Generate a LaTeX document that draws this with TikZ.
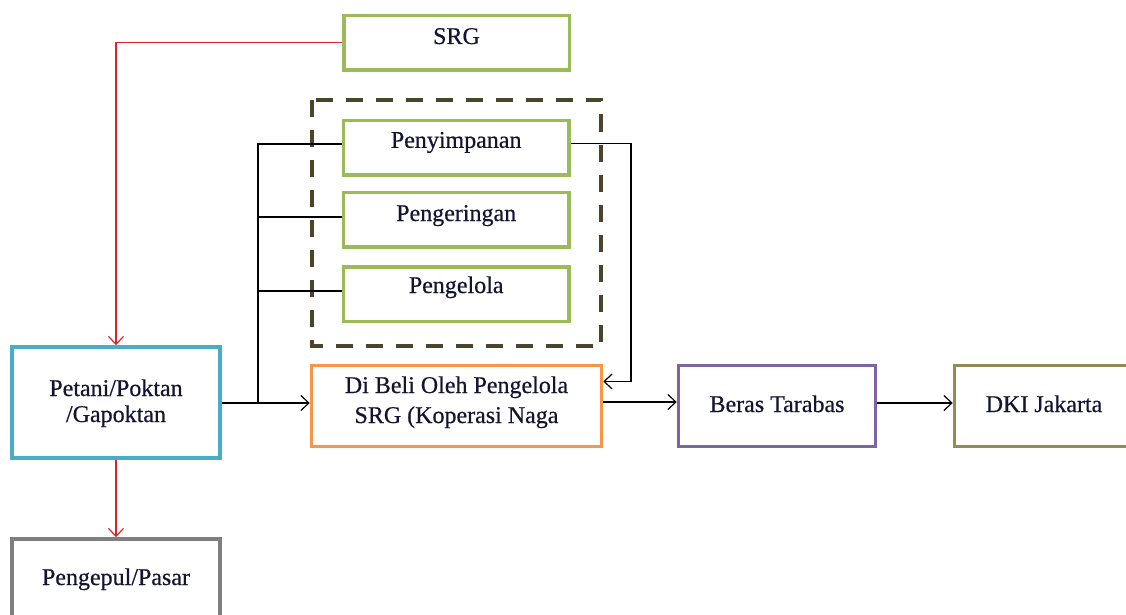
\documentclass[tikz,border=0pt]{standalone}
\usepackage{fontspec}
\setmainfont{Liberation Serif}[FakeBold=0.5]
\usetikzlibrary{arrows.meta}
\definecolor{cgreen}{HTML}{9BBB59}
\definecolor{cblue}{HTML}{4BACC6}
\definecolor{corange}{HTML}{F79646}
\definecolor{cpurple}{HTML}{8064A2}
\definecolor{colive}{HTML}{948A54}
\definecolor{cgray}{HTML}{7F7F7F}
\definecolor{cdash}{HTML}{4A452A}
\definecolor{cred}{HTML}{D9262B}
\definecolor{ctext}{HTML}{141432}
\newcommand\rone[2]{\raisebox{#1}[0pt][0pt]{#2}}
\newcommand\rtwo[4]{\raisebox{#1}[0pt][0pt]{\fontsize{24}{#2}\selectfont\begin{tabular}[t]{@{}c@{}}#3\\#4\end{tabular}}}
\tikzset{
  box/.style={draw, line width=3.5pt, fill=white, text=ctext, font=\fontsize{24}{28}\selectfont, inner sep=0pt},
  gbox/.style={box, draw=cgreen, minimum width=225.5pt, minimum height=54.5pt},
  conn/.style={line width=1.2pt, -{Straight Barb[length=8pt,width=15pt,line width=1.2pt]}},
  plain/.style={line width=1.2pt},
}
\begin{document}
\begin{tikzpicture}[x=1pt,y=-1pt]
\useasboundingbox (0,0) rectangle (1126,615);
\clip (0,0) rectangle (1126,615);
% dashed group
\draw[cdash, line width=4pt, dash pattern=on 17pt off 13pt] (311.5,100) rectangle (601,346);
% boxes
\node[gbox] (srg) at (456.5,42.8) {\rone{-1.2pt}{SRG}};
\node[gbox] (peny) at (456.2,147.8) {\rone{0pt}{Penyimpanan}};
\node[gbox] (peng) at (456.2,219.5) {\rone{-1.5pt}{Pengeringan}};
\node[gbox] (pglo) at (456.2,294) {\rone{1pt}{Pengelola}};
\node[box, draw=cblue, minimum width=208pt, minimum height=111pt] (pet) at (116,402.5) {\rtwo{6.5pt}{26}{Petani/Poktan}{/Gapoktan}};
\node[box, draw=corange, minimum width=290pt, minimum height=81pt] (beli) at (456.5,406) {\rtwo{13pt}{30}{Di Beli Oleh Pengelola}{SRG (Koperasi Naga}};
\node[box, draw=cpurple, minimum width=197pt, minimum height=81pt] (beras) at (777,406) {\rone{-6pt}{Beras Tarabas}};
\node[box, draw=colive, minimum width=179pt, minimum height=81pt] (dki) at (1044,406) {\rone{-6pt}{DKI Jakarta}};
\node[box, draw=cgray, minimum width=208pt, minimum height=111pt] (pgp) at (116,594.5) {\rone{9.5pt}{Pengepul/Pasar}};
% junction coordinates
\coordinate (c1) at (116,42.8);
\coordinate (j) at (258,403);
\coordinate (jt) at (258,144);
\coordinate (j2) at (258,217);
\coordinate (j3) at (258,291);
\coordinate (r1) at (631,143.5);
\coordinate (r2) at (631,381.5);
\coordinate (yb) at (640,402);
% red connectors
\draw[cred, conn] (srg.west) -- (c1) -- (pet.north);
\draw[cred, conn] (pet.south) -- (pgp.north);
% black connectors
\draw[conn] (pet.east |- j) -- (beli.west |- j);
\draw[plain] (j) -- (jt) -- (peny.west |- jt);
\draw[plain] (j2) -- (peng.west |- j2);
\draw[plain] (j3) -- (pglo.west |- j3);
\draw[conn] (peny.east |- r1) -- (r1) -- (r2) -- (beli.east |- r2);
\draw[conn] (beli.east |- yb) -- (beras.west |- yb);
\draw[conn] (beras.east |- j) -- (dki.west |- j);
\end{tikzpicture}
\end{document}
